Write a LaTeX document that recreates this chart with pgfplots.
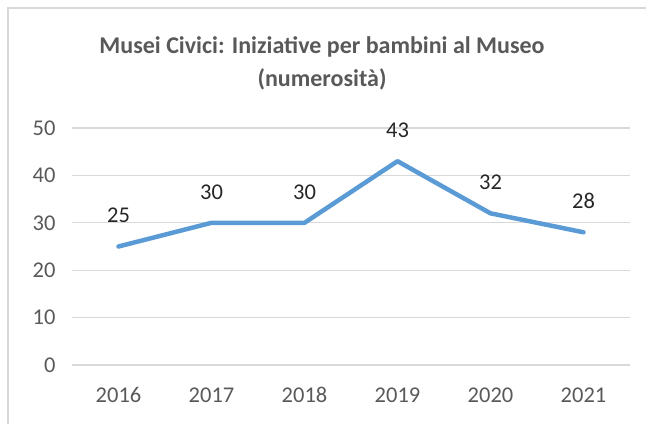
\documentclass[border=0pt]{standalone}
\usepackage{pgfplots}
\pgfplotsset{compat=1.18}
\usepackage{fontspec}
\setmainfont{Carlito}
\definecolor{txt}{HTML}{595959}
\definecolor{gridc}{HTML}{D9D9D9}
\definecolor{linec}{HTML}{5B9BD5}
\begin{document}
\begin{tikzpicture}
\begin{axis}[name=ax, anchor=south west, scale only axis,
  width=558pt, height=237pt,
  xmin=-0.5, xmax=5.5, ymin=0, ymax=50,
  ytick={0,10,...,50}, xtick={0,1,2,3,4,5},
  xticklabels={2016,2017,2018,2019,2020,2021},
  ymajorgrids, grid style={color=gridc, line width=1.2pt},
  axis line style={draw=none}, major tick style={draw=none},
  /pgf/number format/assume math mode=true,
  ticklabel style={font=\fontsize{22.5}{27}\selectfont, text=txt},
  yticklabel style={xshift=-13pt},
  xticklabel style={yshift=-19pt},
  nodes near coords,
  every node near coord/.append style={font=\fontsize{22.5}{27}\selectfont, text=black!85, anchor=center, yshift=31pt},
  clip=false]
\addplot[color=linec, line width=4.5pt, line join=round, line cap=round, mark=none] coordinates {(0,25) (1,30) (2,30) (3,43) (4,32) (5,28)};
\end{axis}
\pgfresetboundingbox
\path[use as bounding box] ([shift={(-72pt,-59pt)}]ax.south west) rectangle ([shift={(574pt,365pt)}]ax.south west);
\draw[color=gridc, line width=1.5pt] ([shift={(-64pt,-59pt)}]ax.south west) -- ([shift={(-64pt,357pt)}]ax.south west) -- ([shift={(574pt,357pt)}]ax.south west);
\node[font=\fontsize{24}{33}\selectfont\bfseries, text=txt, align=center] at ([shift={(250pt,302pt)}]ax.south west) {Musei Civici: Iniziative per bambini al Museo\\(numerosità)};
\end{tikzpicture}
\end{document}
